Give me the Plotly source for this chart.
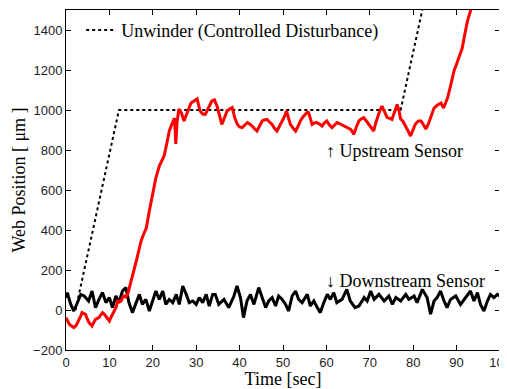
import plotly.graph_objects as go

# Unwinder (controlled disturbance)
unw_t = [2.2, 12.2, 77.1, 82.1]
unw_y = [0, 1000, 1000, 1500]

# Upstream sensor (red)
up_t = [0.0, 0.4, 0.8, 1.3, 1.8, 2.4, 2.9, 3.3, 3.7, 4.1, 4.5, 4.9, 5.3, 5.7, 6.0, 6.4, 6.8, 7.2,
        7.6, 8.0, 8.4, 8.8, 9.2, 9.6, 10.0, 10.4, 10.7, 11.1, 11.5, 11.9, 12.3, 12.7, 13.0, 13.4,
        13.8, 14.2, 14.6, 15.0, 15.4, 15.8, 16.2, 16.7, 17.3, 17.9, 18.5, 19.2, 19.9, 20.7, 21.5,
        22.0, 22.6, 23.2, 23.8, 24.4, 25.0, 25.3, 25.6, 26.0, 26.6, 27.2, 28.0, 28.8, 29.5, 30.2,
        30.9, 31.5, 32.1, 32.8, 33.6, 34.2, 34.8, 35.4, 35.9, 36.5, 37.1, 37.7, 38.3, 38.9, 39.5,
        40.0, 40.6, 41.2, 41.8, 42.3, 42.9, 43.5, 44.0, 44.6, 45.2, 45.7, 46.3, 46.9, 47.5, 48.0,
        48.6, 49.2, 49.8, 50.3, 50.8, 51.2, 51.7, 52.3, 52.9, 53.5, 54.0, 54.6, 55.2, 55.6, 55.9,
        56.3, 56.7, 57.2, 57.8, 58.4, 59.0, 59.5, 60.1, 60.7, 61.3, 61.9, 62.5, 63.2, 64.0, 64.8,
        65.6, 66.0, 66.3, 66.9, 67.5, 68.0, 68.6, 69.2, 69.8, 70.4, 70.9, 71.3, 71.7, 72.2, 72.8,
        73.4, 74.0, 74.6, 75.1, 75.7, 76.3, 76.7, 77.1, 77.6, 78.0, 78.7, 79.4, 79.9, 80.5, 81.2,
        81.8, 82.4, 82.9, 83.5, 84.0, 84.4, 84.8, 85.6, 86.4, 87.0, 87.9, 88.6, 89.4, 90.0, 90.5,
        91.3, 91.9, 92.5, 93.2, 94.0]
up_y = [-38, -55, -72, -80, -88, -75, -55, -35, -13, -18, -22, -45, -63, -72, -80, -62, -47, -42,
        -38, -25, -13, -20, -30, -42, -55, -35, -22, -5, 12, 45, 40, 45, 60, 70, 65, 78, 110, 145,
        170, 200, 245, 290, 345, 380, 410, 495, 580, 660, 720, 745, 770, 830, 895, 930, 960, 830,
        940, 1005, 985, 945, 990, 1035, 1045, 1055, 995, 980, 978, 1010, 1045, 1050, 1020, 970,
        928, 960, 995, 1005, 1012, 960, 928, 915, 912, 925, 937, 930, 920, 905, 895, 920, 945, 950,
        953, 940, 928, 910, 895, 920, 945, 965, 995, 960, 928, 910, 895, 920, 945, 965, 978, 990,
        987, 955, 928, 935, 937, 930, 920, 935, 945, 925, 912, 925, 937, 930, 920, 910, 903, 890,
        878, 915, 945, 955, 962, 945, 928, 910, 895, 930, 962, 990, 1020, 990, 962, 958, 953, 990,
        1028, 1000, 955, 945, 930, 900, 870, 900, 930, 945, 945, 925, 905, 930, 960, 985, 1010,
        1025, 1035, 1010, 1060, 1120, 1195, 1230, 1260, 1310, 1380, 1445, 1495, 1600]

# Downstream sensor (black)
dn_t = [0.0, 0.3, 1.1, 1.8, 2.6, 3.4, 4.2, 5.2, 6.0, 6.8, 7.6, 8.4, 9.2, 10.0, 10.7, 11.5, 12.2,
        13.0, 13.8, 14.5, 15.3, 16.1, 16.9, 17.6, 18.4, 19.2, 19.9, 20.7, 21.5, 22.3, 23.0, 23.8,
        24.6, 25.4, 26.1, 26.9, 27.7, 28.4, 29.2, 30.0, 30.7, 31.5, 32.3, 33.0, 33.8, 34.4, 35.2,
        36.4, 37.5, 38.7, 39.4, 40.2, 40.9, 41.7, 42.5, 43.3, 44.4, 45.2, 46.0, 46.7, 47.5, 48.3,
        49.0, 49.8, 50.6, 51.3, 52.1, 52.9, 53.6, 54.4, 55.6, 56.3, 57.1, 57.9, 58.6, 59.4, 60.2,
        60.9, 61.7, 62.4, 63.6, 64.7, 65.5, 66.6, 67.5, 68.7, 69.4, 70.2, 71.0, 72.1, 73.3, 74.4,
        75.2, 76.0, 77.1, 78.3, 79.0, 80.2, 80.9, 82.1, 83.2, 84.0, 84.8, 85.5, 86.3, 87.1, 87.8,
        88.6, 89.8, 90.9, 92.1, 93.2, 94.0, 94.8, 95.5, 96.3, 97.1, 97.8, 98.6, 99.4, 100.0]
dn_y = [60, 87, 28, -5, 35, 78, 70, 45, 95, 12, 53, 87, 37, 62, 12, 70, 37, 95, 112, 37, -13, 28,
        78, 28, 53, -5, 37, 95, 53, 95, 28, 53, 37, 78, 28, 120, 78, 37, 45, 28, 62, 37, 78, 20, 78,
        78, 28, 53, 12, 70, 120, 62, -38, 45, 78, 28, 112, 62, 12, 45, 62, 20, 70, 53, 28, -5, 70,
        95, 53, 37, 78, 20, 45, 12, -13, 37, 78, 53, 87, 37, 53, 103, 45, 12, 20, 62, 45, 95, 53,
        78, 45, 70, 28, 62, 45, 78, 53, 70, 37, 103, 62, -21, 45, 62, 95, 45, 12, 53, 70, 28, 62,
        95, 45, 87, 28, -5, 45, 78, 62, 78, 70]

x_ticks = [0, 10, 20, 30, 40, 50, 60, 70, 80, 90, 100]
y_ticks = [-200, 0, 200, 400, 600, 800, 1000, 1200, 1400]

serif = "Liberation Serif, Times New Roman, Times, serif"
sans = "Liberation Sans, Arial, sans-serif"

fig = go.Figure()
fig.add_trace(go.Scatter(x=dn_t, y=dn_y, mode="lines", line=dict(color="black", width=3),
                         showlegend=False))
fig.add_trace(go.Scatter(x=unw_t, y=unw_y, mode="lines",
                         line=dict(color="black", width=2, dash="dot"),
                         name="Unwinder (Controlled Disturbance)"))
fig.add_trace(go.Scatter(x=up_t, y=up_y, mode="lines", line=dict(color="#ff0000", width=3),
                         showlegend=False))

fig.add_annotation(x=59.5, y=795, xref="x", yref="y", text="↑ Upstream Sensor",
                   showarrow=False, xanchor="left", yanchor="middle",
                   font=dict(family=serif, size=18, color="black"))
fig.add_annotation(x=59.5, y=145, xref="x", yref="y", text="↓ Downstream Sensor",
                   showarrow=False, xanchor="left", yanchor="middle",
                   font=dict(family=serif, size=18, color="black"))

axis_common = dict(showline=True, linecolor="black", linewidth=1, mirror="ticks",
                   ticks="inside", ticklen=5, tickcolor="black", showgrid=False,
                   zeroline=False, automargin=False, ticklabeloverflow="allow",
                   tickfont=dict(family=sans, size=13, color="#222"))

fig.update_xaxes(range=[0, 100], tickvals=x_ticks,
                 title=dict(text="Time [sec]", font=dict(family=serif, size=18, color="black"),
                            standoff=1),
                 **axis_common)
fig.update_yaxes(range=[-200, 1500], tickvals=y_ticks,
                 title=dict(text="Web Position [ μm ]", font=dict(family=serif, size=18, color="black"),
                            standoff=2),
                 **axis_common)

# page body has an 8px margin, so the figure is sized/offset to compensate
fig.update_layout(width=499, height=381, margin=dict(l=58, r=7, t=2, b=39),
                  plot_bgcolor="white", paper_bgcolor="white",
                  legend=dict(x=0.035, y=0.995, xanchor="left", yanchor="top",
                              bgcolor="rgba(0,0,0,0)",
                              font=dict(family=serif, size=18, color="black")))

fig.write_html("out.html")
